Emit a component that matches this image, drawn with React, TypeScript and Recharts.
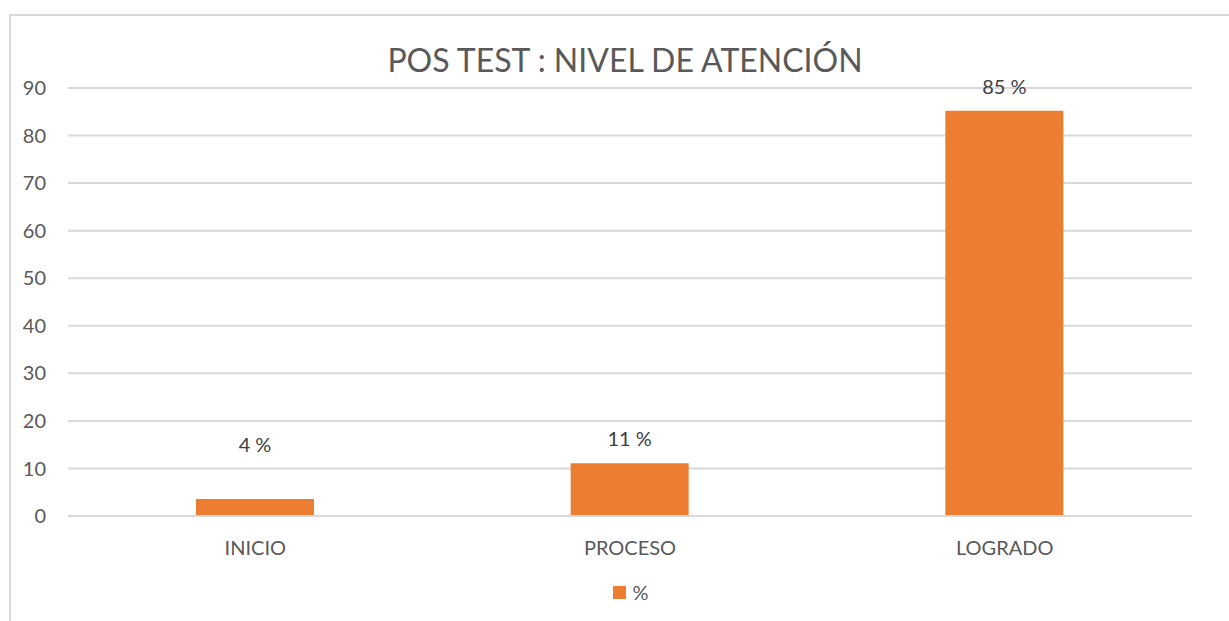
import React from 'react';
import { BarChart, Bar, XAxis, YAxis, CartesianGrid, Legend, LabelList } from 'recharts';

const categories = ['INICIO', 'PROCESO', 'LOGRADO'];
const percentValues = [3.6, 11.1, 85.2];
const valueLabels = ['4 %', '11 %', '85 %'];
const yTicks = [0, 10, 20, 30, 40, 50, 60, 70, 80, 90];

const data = categories.map((c, i) => ({ name: c, pct: percentValues[i], label: valueLabels[i] }));

const FONT = 'Lato, "Open Sans", sans-serif';
const TEXT = '#595959';

const renderLabel = (props: any) => {
  const { x, y, width, index } = props;
  // the first label sits higher in the original
  const lift = index === 0 ? 52 : 22;
  return (
    <text x={x + width / 2} y={y - lift} textAnchor="middle" dominantBaseline="middle"
      fontFamily={FONT} fontSize={20} fill="#404040">
      {valueLabels[index]}
    </text>
  );
};

const renderLegend = () => (
  <div style={{ display: 'flex', justifyContent: 'center', alignItems: 'center', fontFamily: FONT, fontSize: 20, color: TEXT }}>
    <span style={{ width: 13, height: 13, background: '#ED7D31', display: 'inline-block', marginRight: 6 }} />
    <span>%</span>
  </div>
);

const App = () => {
  return (
    <div style={{ position: 'fixed', left: 0, top: 0, width: 1229, height: 621, overflow: 'hidden', background: '#fff' }}>
      <div style={{ position: 'absolute', left: 9, top: 14, width: 1240, height: 640, border: '2px solid #D9D9D9', boxSizing: 'border-box' }} />
      <div style={{ position: 'absolute', left: 0, width: 1250, top: 40, textAlign: 'center', fontFamily: FONT, fontSize: 32, color: TEXT }}>
        POS TEST : NIVEL DE ATENCIÓN
      </div>
      <div style={{ position: 'absolute', left: 0, top: 0 }}>
        <BarChart width={1229} height={621} data={data} margin={{ top: 88, right: 37, left: 0, bottom: 25 }}>
          <CartesianGrid vertical={false} stroke="#D9D9D9" strokeWidth={2} />
          <XAxis dataKey="name" axisLine={{ stroke: '#D9D9D9', strokeWidth: 2 }} tickLine={false} tickSize={0} tickMargin={25}
            height={40} tick={{ fontFamily: FONT, fontSize: 20, fill: TEXT }} />
          <YAxis domain={[0, 90]} ticks={yTicks} axisLine={false} tickLine={false} tickSize={0} tickMargin={22} width={68}
            tick={{ fontFamily: FONT, fontSize: 20, fill: TEXT }} />
          <Legend verticalAlign="bottom" height={40} content={renderLegend}
            wrapperStyle={{ left: 0, width: 1262, top: 580, bottom: 'auto' }} />
          <Bar dataKey="pct" name="%" fill="#ED7D31" barSize={118} isAnimationActive={false}>
            <LabelList dataKey="label" content={renderLabel} />
          </Bar>
        </BarChart>
      </div>
    </div>
  );
};

export default App;
